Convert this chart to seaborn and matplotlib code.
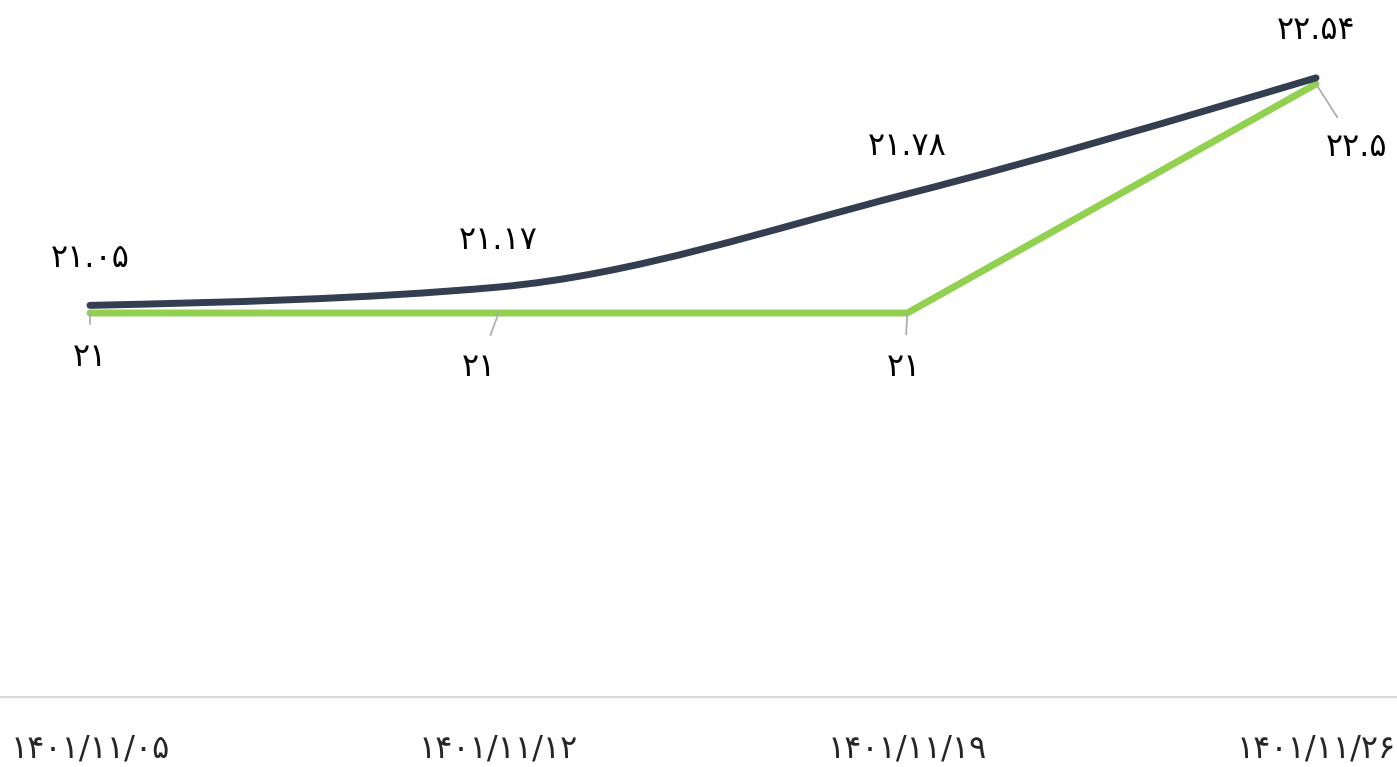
import numpy as np
import pandas as pd
import matplotlib
matplotlib.use("Agg")
import matplotlib.pyplot as plt
from matplotlib.path import Path
from matplotlib.patches import PathPatch
import seaborn as sns

## data
dates = ['۱۴۰۱/۱۱/۰۵', '۱۴۰۱/۱۱/۱۲', '۱۴۰۱/۱۱/۱۹', '۱۴۰۱/۱۱/۲۶']
dark_values = [21.05, 21.17, 21.78, 22.54]
green_values = [21.0, 21.0, 21.0, 22.5]
dark_labels = ['۲۱.۰۵', '۲۱.۱۷', '۲۱.۷۸', '۲۲.۵۴']
green_labels = ['۲۱', '۲۱', '۲۱', '۲۲.۵']

dark_color = '#333e50'
green_color = '#92d050'
lead_color = '#aaaaaa'

df = pd.DataFrame({'x': range(len(dates)), 'dark': dark_values, 'green': green_values})

sns.set_style('white')
plt.rcParams['font.family'] = ['DejaVu Sans']

fig = plt.figure(figsize=(13.97, 7.67), dpi=100)
ax = fig.add_axes([0, 70 / 767, 1, 697 / 767])

## green series: straight segments
sns.lineplot(data=df, x='x', y='green', color=green_color, linewidth=5,
             solid_capstyle='round', ax=ax, zorder=2)

## dark series: monotone cubic curve (d3 monotoneX style) as bezier path
xs = df['x'].to_numpy(dtype=float)
ys = df['dark'].to_numpy(dtype=float)
h = np.diff(xs)
s = np.diff(ys) / h
t = np.zeros(len(xs))
for i in range(1, len(xs) - 1):
    p = (s[i - 1] * h[i] + s[i] * h[i - 1]) / (h[i - 1] + h[i])
    t[i] = (np.sign(s[i - 1]) + np.sign(s[i])) * min(abs(s[i - 1]), abs(s[i]), 0.5 * abs(p))
t[0] = (3 * s[0] - t[1]) / 2
t[-1] = (3 * s[-1] - t[-2]) / 2
verts = [(xs[0], ys[0])]
codes = [Path.MOVETO]
for i in range(len(xs) - 1):
    d = h[i] / 3
    verts += [(xs[i] + d, ys[i] + d * t[i]), (xs[i + 1] - d, ys[i + 1] - d * t[i + 1]), (xs[i + 1], ys[i + 1])]
    codes += [Path.CURVE4] * 3
ax.add_patch(PathPatch(Path(verts, codes), facecolor='none', edgecolor=dark_color,
                       linewidth=5, capstyle='round', zorder=3))

## labels
for x, y, lab in zip(df['x'], df['dark'], dark_labels):
    ax.annotate(lab, (x, y), xytext=(0, 47), textcoords='offset pixels',
                ha='center', va='center', fontsize=23, color='black')

green_off = [(0, -44), (-20, -54), (-3, -54), (41, -64)]
for (x, y, lab), off in zip(zip(df['x'], df['green'], green_labels), green_off):
    ax.annotate(lab, (x, y), xytext=off, textcoords='offset pixels',
                ha='center', va='center', fontsize=23, color='black',
                arrowprops=dict(arrowstyle='-', color=lead_color, lw=1.2,
                                shrinkA=10, shrinkB=0))

ax.set_xlim(-90 / 408.7, 3 + 81 / 408.7)
ax.set_ylim(18.485, 23.05)
ax.set_xticks(df['x'])
ax.set_xticklabels(dates, fontsize=23)
ax.set_yticks([])
ax.tick_params(axis='x', length=0, pad=26)
ax.set_xlabel('')
ax.set_ylabel('')
sns.despine(ax=ax, left=True, right=True, top=True)
ax.spines['bottom'].set_color('#d9d9d9')
ax.spines['bottom'].set_linewidth(1.5)

fig.savefig('out.png', dpi=100)
